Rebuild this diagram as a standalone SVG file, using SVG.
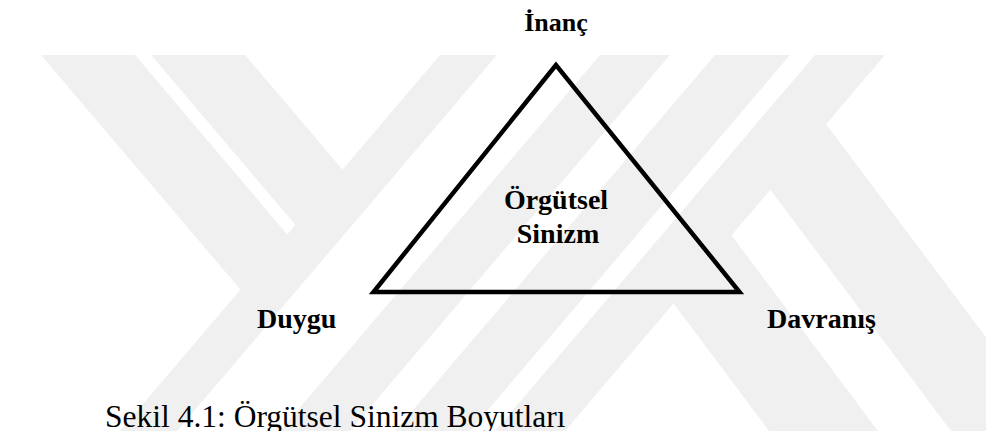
<svg xmlns="http://www.w3.org/2000/svg" width="986" height="431" viewBox="0 0 986 431">
  <style>
    .wm { fill: #f0f0f0; stroke: none; }
    .lbl { font-family: "Liberation Serif", "Times New Roman", serif; font-weight: bold; font-size: 28px; fill: #000; }
    .cap { font-family: "Liberation Serif", "Times New Roman", serif; font-size: 31.5px; fill: #000; }
    .tri { fill: none; stroke: #000; stroke-width: 4.5; stroke-linejoin: miter; }
  </style>
  <rect x="0" y="0" width="986" height="431" fill="#ffffff"/>
  <g id="watermark">
    <polygon class="wm" points="41,55 135,55 292,240 245.5,295.6"/>
    <polygon class="wm" points="151,55 245,55 347.5,175.6 300.6,231"/>
    <polygon class="wm" points="440,55 497,55 177,431 120,431"/>
    <polygon class="wm" points="600,55 670,55 350,431 280,431"/>
    <polygon class="wm" points="715,55 790,55 470,431 395,431"/>
    <polygon class="wm" points="815,55 885,55 565,431 495,431"/>
    <polygon class="wm" points="641,260 698.8,191.7 878,431 769,431"/>
    <polygon class="wm" points="737.6,146 793.4,80.5 986,337.3 986,431 951,431"/>
  </g>
  <g id="triangle">
    <polygon class="tri" points="556,65 373.5,292 739.5,292"/>
  </g>
  <g id="node-center">
    <text class="lbl" x="556" y="209" text-anchor="middle">Örgütsel</text>
    <text class="lbl" x="558" y="243" text-anchor="middle">Sinizm</text>
  </g>
  <g id="node-inanc">
    <text class="lbl" x="556" y="31" text-anchor="middle" style="font-size:26px">İnanç</text>
  </g>
  <g id="node-duygu">
    <text class="lbl" x="257" y="328">Duygu</text>
  </g>
  <g id="node-davranis">
    <text class="lbl" x="767" y="328">Davranış</text>
  </g>
  <g id="connectors"></g>
  <g id="caption">
    <text class="cap" x="105" y="427">Sekil 4.1: Örgütsel Sinizm Boyutları</text>
  </g>
</svg>
